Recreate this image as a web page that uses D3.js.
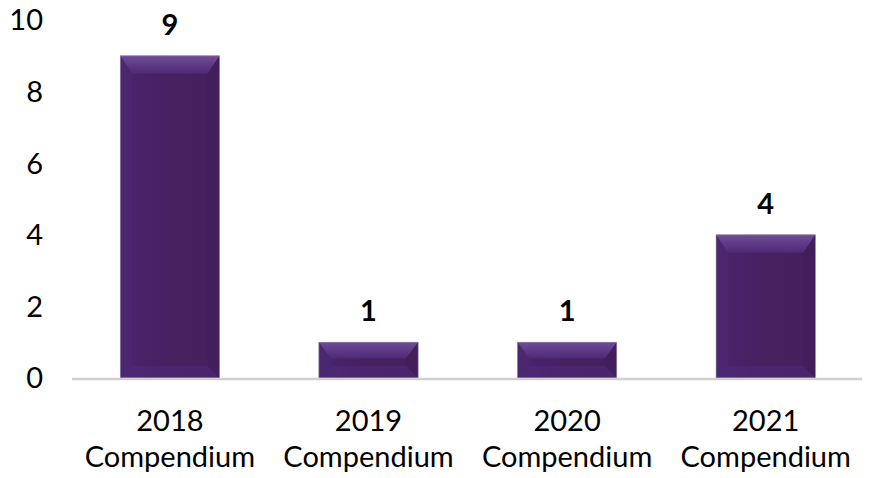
<!DOCTYPE html>
<html><head><meta charset="utf-8">
<script src="https://cdn.jsdelivr.net/npm/d3@7"></script>
<style>body{margin:0;background:#fff}svg{display:block}</style>
</head><body>
<svg id="c" width="870" height="478"></svg>
<script>
const categories = ["2018 Compendium","2019 Compendium","2020 Compendium","2021 Compendium"];
const values = [9,1,1,4];
const yTicks = [0,2,4,6,8,10];

const svg = d3.select("#c");
const font = "Lato, 'Open Sans', sans-serif";
const x = d3.scaleBand().domain(categories).range([70.6,865]).paddingInner(0.5).paddingOuter(0.25);
const y = d3.scaleLinear().domain([0,10]).range([378,20]);

const defs = svg.append("defs");
const g = defs.append("linearGradient").attr("id","body").attr("x1",0).attr("x2",1);
g.append("stop").attr("offset","0%").attr("stop-color","#4b2570");
g.append("stop").attr("offset","50%").attr("stop-color","#46205f");
g.append("stop").attr("offset","100%").attr("stop-color","#45205f");
const gt = defs.append("linearGradient").attr("id","top").attr("x1",0).attr("y1",0).attr("x2",0).attr("y2",1);
gt.append("stop").attr("offset","0%").attr("stop-color","#6f4c99");
gt.append("stop").attr("offset","100%").attr("stop-color","#4e2974");

svg.append("g").selectAll("text").data(yTicks).join("text")
  .attr("x",43).attr("y",d=>y(d)).attr("dy","0.36em").attr("text-anchor","end")
  .attr("font-family",font).attr("font-size",29).attr("fill","#000").text(d=>d);

const bars = svg.append("g").selectAll("g").data(values.map((v,i)=>({c:categories[i],v}))).join("g");
bars.each(function(d){
  const gg = d3.select(this);
  const x0 = x(d.c), w = x.bandwidth(), y0 = y(d.v), y1 = y(0), h = y1-y0;
  const b = Math.min(12, h/3, w/4), bt = Math.min(18, h/2.2);
  gg.append("rect").attr("x",x0).attr("y",y0).attr("width",w).attr("height",h).attr("fill","url(#body)");
  gg.append("polygon").attr("points",[[x0,y0],[x0+w,y0],[x0+w-b,y0+bt],[x0+b,y0+bt]].join(" ")).attr("fill","url(#top)");
  gg.append("polygon").attr("points",[[x0,y0],[x0+b,y0+bt],[x0+b,y1-b],[x0,y1]].join(" ")).attr("fill","#4d2873").attr("opacity",0.5);
  gg.append("polygon").attr("points",[[x0+w,y0],[x0+w-b,y0+bt],[x0+w-b,y1-b],[x0+w,y1]].join(" ")).attr("fill","#3f1c58").attr("opacity",0.5);
  gg.append("polygon").attr("points",[[x0,y1],[x0+b,y1-b],[x0+w-b,y1-b],[x0+w,y1]].join(" ")).attr("fill","#4f2a78").attr("opacity",0.6);
  gg.append("rect").attr("x",x0).attr("y",y0).attr("width",w).attr("height",h).attr("fill","none").attr("stroke","#9a94a0").attr("stroke-width",0.6);
  gg.append("text").attr("x",x0+w/2).attr("y",y0-21).attr("text-anchor","middle")
    .attr("font-family",font).attr("font-weight","bold").attr("font-size",29).text(d.v);
});

svg.append("line").attr("x1",72).attr("x2",862).attr("y1",y(0)+1).attr("y2",y(0)+1)
  .attr("stroke","#d0d0d0").attr("stroke-width",2.5);

const xl = svg.append("g").selectAll("text").data(categories).join("text")
  .attr("text-anchor","middle").attr("font-family",font).attr("font-size",29);
xl.each(function(d){
  const parts = d.split(" ");
  const t = d3.select(this);
  parts.forEach((p,i)=>t.append("tspan").attr("x",x(d)+x.bandwidth()/2).attr("y",431+i*36).text(p));
});
</script>
</body></html>
